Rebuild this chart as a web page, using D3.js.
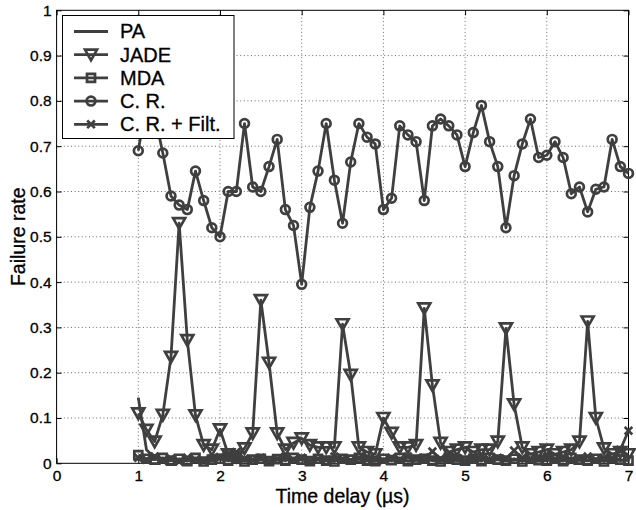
<!DOCTYPE html>
<html>
<head>
<meta charset="utf-8">
<script src="https://cdn.jsdelivr.net/npm/d3@7"></script>
<style>
  body { margin: 0; background: #fff; }
  svg { display: block; font-family: 'Liberation Sans', Arial, sans-serif; }
  .grid line { stroke: #6a6a6a; stroke-width: 1; stroke-dasharray: 1, 2.6; }
  .tick text { fill: #000; }
  .lbl { stroke: #000; stroke-width: 0.3px; }
</style>
</head>
<body>
<div id="chart"></div>
<script>
// time delay grid (µs)
const delays = [1.0, 1.1, 1.2, 1.3, 1.4, 1.5, 1.6, 1.7, 1.8, 1.9,
  2.0, 2.1, 2.2, 2.3, 2.4, 2.5, 2.6, 2.7, 2.8, 2.9,
  3.0, 3.1, 3.2, 3.3, 3.4, 3.5, 3.6, 3.7, 3.8, 3.9,
  4.0, 4.1, 4.2, 4.3, 4.4, 4.5, 4.6, 4.7, 4.8, 4.9,
  5.0, 5.1, 5.2, 5.3, 5.4, 5.5, 5.6, 5.7, 5.8, 5.9,
  6.0, 6.1, 6.2, 6.3, 6.4, 6.5, 6.6, 6.7, 6.8, 6.9, 7.0]

const paRate = [0.145, 0.03, 0.012, 0.008, 0.01, 0.006, 0.009, 0.005, 0.008, 0.006,
  0.01, 0.007, 0.005, 0.009, 0.006, 0.008, 0.005, 0.007, 0.01, 0.006,
  0.008, 0.005, 0.009, 0.006, 0.007, 0.005, 0.008, 0.01, 0.006, 0.005,
  0.008, 0.006, 0.009, 0.005, 0.007, 0.006, 0.01, 0.005, 0.008, 0.006,
  0.007, 0.005, 0.009, 0.006, 0.008, 0.005, 0.007, 0.01, 0.006, 0.005,
  0.008, 0.006, 0.009, 0.005, 0.007, 0.006, 0.008, 0.005, 0.009, 0.006, 0.008]

const jadeRate = [0.11, 0.074, 0.048, 0.107, 0.235, 0.53, 0.272, 0.106, 0.04, 0.03,
  0.075, 0.02, 0.015, 0.033, 0.066, 0.36, 0.222, 0.066, 0.03, 0.045,
  0.055, 0.04, 0.035, 0.035, 0.035, 0.307, 0.195, 0.035, 0.025, 0.02,
  0.10, 0.067, 0.035, 0.035, 0.04, 0.342, 0.172, 0.045, 0.025, 0.03,
  0.035, 0.025, 0.03, 0.03, 0.048, 0.298, 0.13, 0.035, 0.02, 0.025,
  0.03, 0.02, 0.025, 0.03, 0.048, 0.313, 0.10, 0.033, 0.02, 0.025, 0.02]

const mdaRate = [0.018, 0.01, 0.008, 0.012, 0.006, 0.01, 0.005, 0.012, 0.004, 0.008,
  0.01, 0.006, 0.012, 0.004, 0.008, 0.01, 0.005, 0.009, 0.006, 0.012,
  0.008, 0.005, 0.01, 0.006, 0.004, 0.01, 0.008, 0.012, 0.006, 0.005,
  0.01, 0.007, 0.012, 0.005, 0.008, 0.01, 0.006, 0.004, 0.012, 0.008,
  0.006, 0.01, 0.005, 0.012, 0.008, 0.006, 0.01, 0.004, 0.012, 0.007,
  0.006, 0.01, 0.005, 0.012, 0.008, 0.006, 0.01, 0.004, 0.012, 0.008, 0.006]

const crRate = [0.69, 0.80, 0.77, 0.685, 0.59, 0.57, 0.56, 0.645, 0.58, 0.52,
  0.50, 0.60, 0.60, 0.75, 0.61, 0.60, 0.655, 0.715, 0.56, 0.525,
  0.395, 0.565, 0.645, 0.75, 0.625, 0.53, 0.665, 0.75, 0.72, 0.705,
  0.56, 0.585, 0.745, 0.725, 0.71, 0.58, 0.745, 0.76, 0.745, 0.725,
  0.655, 0.73, 0.79, 0.71, 0.655, 0.52, 0.635, 0.705, 0.76, 0.675,
  0.68, 0.71, 0.675, 0.595, 0.61, 0.555, 0.605, 0.61, 0.715, 0.655, 0.64]

const crFiltRate = [0.012, 0.008, 0.015, 0.006, 0.01, 0.004, 0.012, 0.008, 0.005, 0.01,
  0.014, 0.02, 0.025, 0.01, 0.008, 0.012, 0.006, 0.01, 0.015, 0.008,
  0.012, 0.006, 0.01, 0.008, 0.015, 0.01, 0.006, 0.012, 0.008, 0.01,
  0.006, 0.012, 0.008, 0.015, 0.01, 0.012, 0.026, 0.01, 0.008, 0.012,
  0.006, 0.01, 0.015, 0.008, 0.012, 0.01, 0.028, 0.012, 0.008, 0.01,
  0.014, 0.008, 0.012, 0.006, 0.01, 0.015, 0.008, 0.012, 0.01, 0.03, 0.072]

const seriesNames = ['PA', 'JADE', 'MDA', 'C. R.', 'C. R. + Filt.']
const seriesMarkers = ['none', 'triangle', 'square', 'circle', 'cross']

const xTicks = [0, 1, 2, 3, 4, 5, 6, 7]
const yTicks = [0, 0.1, 0.2, 0.3, 0.4, 0.5, 0.6, 0.7, 0.8, 0.9, 1]
const yTickLabels = ['0', '0.1', '0.2', '0.3', '0.4', '0.5', '0.6', '0.7', '0.8', '0.9', '1']

const w = 636
const h = 510
const margin = { left: 56.6, right: 7.5, top: 10.3, bottom: 46.7 }
const lineColor = '#3f3f3f'

const svg = d3.select('#chart').append('svg').attr('width', w).attr('height', h)

const xScale = d3.scaleLinear().domain([0, 7]).range([margin.left, w - margin.right])
const yScale = d3.scaleLinear().domain([0, 1]).range([h - margin.bottom, margin.top])

// grid
svg.append('g').attr('class', 'grid')
  .selectAll('line').data(xTicks.slice(1, -1)).join('line')
  .attr('x1', (d) => xScale(d)).attr('x2', (d) => xScale(d))
  .attr('y1', margin.top).attr('y2', h - margin.bottom)
svg.append('g').attr('class', 'grid')
  .selectAll('line').data(yTicks.slice(1, -1)).join('line')
  .attr('x1', margin.left).attr('x2', w - margin.right)
  .attr('y1', (d) => yScale(d)).attr('y2', (d) => yScale(d))

// axes with inward ticks
const xAxis = d3.axisBottom(xScale).tickValues(xTicks).tickFormat(d3.format('d'))
  .tickSizeInner(-5).tickSizeOuter(0).tickPadding(7)
const yAxis = d3.axisLeft(yScale).tickValues(yTicks).tickFormat((d, i) => yTickLabels[i])
  .tickSizeInner(-5).tickSizeOuter(0).tickPadding(5)

const gx = svg.append('g').attr('transform', 'translate(0,' + (h - margin.bottom) + ')').call(xAxis)
const gy = svg.append('g').attr('transform', 'translate(' + margin.left + ',0)').call(yAxis)
svg.append('g').attr('transform', 'translate(0,' + margin.top + ')')
  .call(d3.axisTop(xScale).tickValues(xTicks).tickFormat('').tickSizeInner(-5).tickSizeOuter(0))
svg.append('g').attr('transform', 'translate(' + (w - margin.right) + ',0)')
  .call(d3.axisRight(yScale).tickValues(yTicks).tickFormat('').tickSizeInner(-5).tickSizeOuter(0))

svg.selectAll('.domain').remove()
svg.selectAll('.tick line').attr('stroke', '#000')
gx.selectAll('text').attr('class', 'lbl').style('font-size', '15.5px')
gy.selectAll('text').attr('class', 'lbl').style('font-size', '15.5px')

svg.append('rect')
  .attr('x', margin.left).attr('y', margin.top)
  .attr('width', w - margin.left - margin.right)
  .attr('height', h - margin.top - margin.bottom)
  .attr('fill', 'none').attr('stroke', '#000').attr('stroke-width', 1)

// axis titles
svg.append('text')
  .text('Time delay (\u00b5s)')
  .attr('class', 'lbl')
  .attr('x', (margin.left + w - margin.right) / 2)
  .attr('y', 503)
  .attr('text-anchor', 'middle')
  .style('font-size', '19.5px')

svg.append('text')
  .text('Failure rate')
  .attr('class', 'lbl')
  .attr('transform', 'rotate(-90)')
  .attr('x', -(margin.top + h - margin.bottom) / 2)
  .attr('y', 25)
  .attr('text-anchor', 'middle')
  .style('font-size', '19.5px')

// marker shapes
const markerPath = (type) => {
  if (type === 'triangle') return 'M-6,-5L6,-5L0,5.6Z'
  if (type === 'square') return 'M-4,-4H4V4H-4Z'
  if (type === 'circle') return 'M-4.4,0A4.4,4.4 0 1,0 4.4,0A4.4,4.4 0 1,0 -4.4,0Z'
  if (type === 'cross') return 'M-3.8,-3.8L3.8,3.8M-3.8,3.8L3.8,-3.8'
  return null
}

const allSeries = [paRate, jadeRate, mdaRate, crRate, crFiltRate]
const line = d3.line().x((d) => xScale(d[0])).y((d) => yScale(d[1]))

const plot = svg.append('g')
allSeries.forEach((vals, k) => {
  const pts = vals.map((v, i) => [delays[i], v])
  plot.append('path')
    .datum(pts)
    .attr('d', line)
    .attr('fill', 'none')
    .attr('stroke', lineColor)
    .attr('stroke-width', 2.8)
    .attr('stroke-linejoin', 'round')
  const mp = markerPath(seriesMarkers[k])
  if (mp) {
    plot.append('g').selectAll('path').data(pts).join('path')
      .attr('transform', (d) => 'translate(' + xScale(d[0]) + ',' + yScale(d[1]) + ')')
      .attr('d', mp)
      .attr('fill', 'none')
      .attr('stroke', lineColor)
      .attr('stroke-width', 2.7)
  }
})

// legend
const legend = svg.append('g').attr('id', 'legend')
legend.append('rect')
  .attr('x', 62.5).attr('y', 15.5).attr('width', 171.5).attr('height', 123)
  .attr('fill', '#fff').attr('stroke', '#000').attr('stroke-width', 1)

seriesNames.forEach((name, k) => {
  const ly = 31.5 + k * 23.2
  legend.append('line')
    .attr('x1', 74).attr('x2', 108).attr('y1', ly).attr('y2', ly)
    .attr('stroke', lineColor).attr('stroke-width', 2.8)
  const mp = markerPath(seriesMarkers[k])
  if (mp) {
    legend.append('path')
      .attr('transform', 'translate(91,' + ly + ')')
      .attr('d', mp)
      .attr('fill', 'none')
      .attr('stroke', lineColor)
      .attr('stroke-width', 2.7)
  }
  legend.append('text')
    .text(name)
    .attr('class', 'lbl')
    .attr('x', 120).attr('y', ly + 6.8)
    .style('font-size', '20px')
})
</script>
</body>
</html>
